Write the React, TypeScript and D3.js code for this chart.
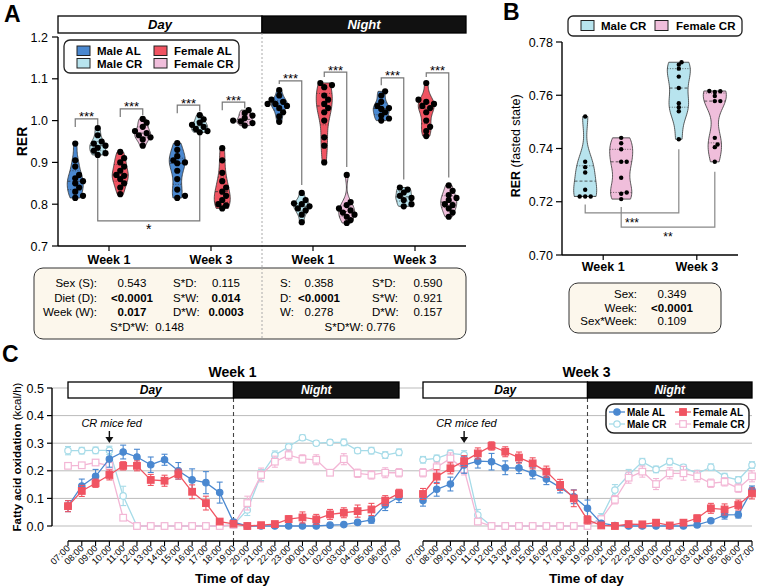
import React from "react";
import * as d3 from "d3";

const FONT = "'Liberation Sans', Arial, Helvetica, sans-serif";

const BLUE = "#4a88d0";
const RED = "#f05462";
const LBLUE = "#b8e4ee";
const PINK = "#f0bedb";
const LBLUE_LINE = "#a6dbe8";
const PINK_LINE = "#f3b6d5";

// ---------- Panel A : RER violins ----------
const periods = ["Day", "Night"];
const weeks = ["Week 1", "Week 3"];
const groupsA = ["Male AL", "Male CR", "Female AL", "Female CR"];

const dayW1MaleAL = [0.945, 0.905, 0.89, 0.87, 0.862, 0.855, 0.85, 0.84, 0.83, 0.82, 0.815];
const dayW1MaleCR = [0.982, 0.965, 0.95, 0.945, 0.94, 0.935, 0.928, 0.922, 0.918];
const dayW1FemaleAL = [0.925, 0.91, 0.9, 0.89, 0.88, 0.87, 0.868, 0.86, 0.85, 0.84, 0.824];
const dayW1FemaleCR = [1.004, 0.995, 0.985, 0.975, 0.97, 0.965, 0.96, 0.955, 0.94];
const dayW3MaleAL = [0.946, 0.93, 0.915, 0.905, 0.9, 0.898, 0.88, 0.86, 0.835, 0.82, 0.815];
const dayW3MaleCR = [1.013, 1.003, 0.995, 0.99, 0.985, 0.98, 0.975, 0.972];
const dayW3FemaleAL = [0.934, 0.905, 0.875, 0.855, 0.84, 0.83, 0.82, 0.81, 0.8, 0.797, 0.79];
const dayW3FemaleCR = [1.025, 1.018, 1.012, 1.006, 1.0, 0.998, 0.994, 0.988];
const nightW1MaleAL = [1.073, 1.06, 1.05, 1.045, 1.04, 1.04, 1.035, 1.03, 1.02, 1.01, 0.997];
const nightW1MaleCR = [0.827, 0.81, 0.802, 0.8, 0.795, 0.79, 0.785, 0.775, 0.757];
const nightW1FemaleAL = [1.09, 1.085, 1.08, 1.06, 1.05, 1.04, 1.03, 1.02, 1.0, 0.96, 0.94, 0.9];
const nightW1FemaleCR = [0.87, 0.805, 0.798, 0.79, 0.785, 0.78, 0.775, 0.77, 0.762, 0.755];
const nightW3MaleAL = [1.07, 1.06, 1.045, 1.035, 1.03, 1.028, 1.02, 1.012, 1.005, 1.0];
const nightW3MaleCR = [0.84, 0.835, 0.828, 0.82, 0.815, 0.81, 0.8, 0.795];
const nightW3FemaleAL = [1.09, 1.05, 1.045, 1.04, 1.035, 1.03, 1.02, 1.0, 0.985, 0.975, 0.963];
const nightW3FemaleCR = [0.845, 0.832, 0.822, 0.815, 0.81, 0.8, 0.798, 0.79, 0.78, 0.77];

const yTicksA = [0.7, 0.8, 0.9, 1.0, 1.1, 1.2];

// significance brackets (level in RER units)
const sigA = [
  { period: "Day", week: "Week 1", a: "Male AL", b: "Male CR", level: 1.004, label: "***" },
  { period: "Day", week: "Week 1", a: "Female AL", b: "Female CR", level: 1.028, label: "***" },
  { period: "Day", week: "Week 3", a: "Male AL", b: "Male CR", level: 1.037, label: "***" },
  { period: "Day", week: "Week 3", a: "Female AL", b: "Female CR", level: 1.044, label: "***" },
  { period: "Night", week: "Week 1", a: "Male AL", b: "Male CR", level: 1.095, label: "***" },
  { period: "Night", week: "Week 1", a: "Female AL", b: "Female CR", level: 1.116, label: "***" },
  { period: "Night", week: "Week 3", a: "Male AL", b: "Male CR", level: 1.102, label: "***" },
  { period: "Night", week: "Week 3", a: "Female AL", b: "Female CR", level: 1.114, label: "***" },
];
const sigAWeek = { period: "Day", group: "Male CR", level: 0.76, label: "*" };

const statsDayRows = [
  ["Sex (S):", "0.543", false, "S*D:", "0.115", false],
  ["Diet (D):", "<0.0001", true, "S*W:", "0.014", true],
  ["Week (W):", "0.017", true, "D*W:", "0.0003", true],
];
const statsDayLast = ["S*D*W:", "0.148"];
const statsNightRows = [
  ["S:", "0.358", false, "S*D:", "0.590", false],
  ["D:", "<0.0001", true, "S*W:", "0.921", false],
  ["W:", "0.278", false, "D*W:", "0.157", false],
];
const statsNightLast = ["S*D*W:", "0.776"];

// ---------- Panel B : fasted RER ----------
const groupsB = ["Male CR", "Female CR"];
const fastW1MaleCR = [0.752, 0.735, 0.733, 0.731, 0.7245, 0.722, 0.722, 0.722];
const fastW1FemaleCR = [0.744, 0.742, 0.7397, 0.735, 0.735, 0.729, 0.7235, 0.723, 0.721];
const fastW3MaleCR = [0.7724, 0.7715, 0.77, 0.767, 0.7627, 0.757, 0.7555, 0.754, 0.7435];
const fastW3FemaleCR = [0.7616, 0.7615, 0.7612, 0.7597, 0.7578, 0.7578, 0.744, 0.7415, 0.7405, 0.735];
const yTicksB = [0.7, 0.72, 0.74, 0.76, 0.78];
const sigB = [
  { group: "Male CR", level: 0.7158, label: "***" },
  { group: "Female CR", level: 0.7105, label: "**" },
];
const statsB = [
  ["Sex:", "0.349", false],
  ["Week:", "<0.0001", true],
  ["Sex*Week:", "0.109", false],
];

// ---------- Panel C : fatty acid oxidation ----------
const hours = [
  "07:00", "08:00", "09:00", "10:00", "11:00", "12:00", "13:00", "14:00", "15:00",
  "16:00", "17:00", "18:00", "19:00", "20:00", "21:00", "22:00", "23:00", "00:00",
  "01:00", "02:00", "03:00", "04:00", "05:00", "06:00", "07:00",
];
const yTicksC = [0, 0.1, 0.2, 0.3, 0.4, 0.5];

const cMaleALW1 = [0.072, 0.145, 0.18, 0.243, 0.268, 0.25, 0.222, 0.24, 0.2, 0.167, 0.157, 0.121, 0.014, 0.0, 0.0, 0.0, 0.0, 0.0, 0.0, 0.003, 0.005, 0.013, 0.022, 0.076, 0.105];
const cMaleALW1Err = [0.02, 0.025, 0.025, 0.03, 0.025, 0.028, 0.028, 0.02, 0.03, 0.04, 0.04, 0.038, 0.008, 0.002, 0.002, 0.002, 0.002, 0.002, 0.002, 0.003, 0.004, 0.006, 0.012, 0.02, 0.02];
const cFemaleALW1 = [0.072, 0.127, 0.155, 0.185, 0.218, 0.218, 0.167, 0.164, 0.188, 0.124, 0.083, 0.016, 0.008, 0.0, 0.003, 0.007, 0.025, 0.031, 0.024, 0.042, 0.048, 0.054, 0.06, 0.092, 0.118];
const cFemaleALW1Err = [0.02, 0.02, 0.015, 0.018, 0.015, 0.018, 0.02, 0.02, 0.018, 0.025, 0.025, 0.006, 0.005, 0.002, 0.004, 0.006, 0.012, 0.02, 0.018, 0.018, 0.018, 0.022, 0.022, 0.018, 0.015];
const cMaleCRW1 = [0.273, 0.273, 0.274, 0.274, 0.109, 0.0, 0.0, 0.0, 0.0, 0.0, 0.0, 0.0, 0.004, 0.058, 0.185, 0.257, 0.287, 0.32, 0.3, 0.303, 0.303, 0.273, 0.273, 0.257, 0.267];
const cMaleCRW1Err = [0.015, 0.012, 0.012, 0.015, 0.035, 0.001, 0.001, 0.001, 0.001, 0.001, 0.001, 0.001, 0.004, 0.02, 0.02, 0.015, 0.012, 0.01, 0.008, 0.01, 0.012, 0.01, 0.012, 0.012, 0.012];
const cFemaleCRW1 = [0.218, 0.22, 0.23, 0.218, 0.03, 0.0, 0.0, 0.0, 0.0, 0.0, 0.0, 0.0, 0.004, 0.083, 0.185, 0.233, 0.257, 0.243, 0.24, 0.193, 0.242, 0.191, 0.185, 0.193, 0.193];
const cFemaleCRW1Err = [0.01, 0.01, 0.01, 0.015, 0.01, 0.001, 0.001, 0.001, 0.001, 0.001, 0.001, 0.001, 0.003, 0.025, 0.025, 0.02, 0.018, 0.015, 0.018, 0.01, 0.02, 0.015, 0.015, 0.018, 0.015];

const cMaleALW3 = [0.092, 0.133, 0.152, 0.221, 0.235, 0.233, 0.211, 0.21, 0.191, 0.17, 0.14, 0.106, 0.064, 0.01, 0.002, 0.0, 0.0, 0.0, 0.0, 0.0, 0.004, 0.019, 0.04, 0.041, 0.13];
const cMaleALW3Err = [0.02, 0.025, 0.025, 0.03, 0.025, 0.03, 0.025, 0.02, 0.02, 0.02, 0.02, 0.025, 0.03, 0.005, 0.002, 0.002, 0.002, 0.002, 0.002, 0.002, 0.003, 0.005, 0.015, 0.012, 0.015];
const cFemaleALW3 = [0.116, 0.179, 0.209, 0.235, 0.263, 0.29, 0.269, 0.248, 0.227, 0.197, 0.149, 0.1, 0.022, 0.002, 0.0, 0.007, 0.006, 0.012, 0.002, 0.012, 0.028, 0.064, 0.06, 0.076, 0.118];
const cFemaleALW3Err = [0.02, 0.025, 0.02, 0.02, 0.02, 0.015, 0.018, 0.02, 0.02, 0.02, 0.02, 0.03, 0.015, 0.003, 0.002, 0.005, 0.005, 0.008, 0.004, 0.008, 0.012, 0.018, 0.02, 0.018, 0.02];
const cMaleCRW3 = [0.24, 0.245, 0.263, 0.258, 0.04, 0.0, 0.0, 0.0, 0.0, 0.0, 0.0, 0.0, 0.0, 0.03, 0.13, 0.185, 0.233, 0.205, 0.233, 0.213, 0.19, 0.213, 0.179, 0.167, 0.221];
const cMaleCRW3Err = [0.012, 0.012, 0.012, 0.015, 0.02, 0.001, 0.001, 0.001, 0.001, 0.001, 0.001, 0.001, 0.002, 0.015, 0.02, 0.02, 0.012, 0.012, 0.012, 0.01, 0.012, 0.012, 0.012, 0.012, 0.012];
const cFemaleCRW3 = [0.193, 0.213, 0.245, 0.205, 0.016, 0.0, 0.0, 0.0, 0.0, 0.0, 0.0, 0.0, 0.0, 0.025, 0.095, 0.175, 0.197, 0.152, 0.191, 0.191, 0.18, 0.155, 0.16, 0.137, 0.18];
const cFemaleCRW3Err = [0.015, 0.018, 0.02, 0.02, 0.008, 0.001, 0.001, 0.001, 0.001, 0.001, 0.001, 0.001, 0.002, 0.01, 0.015, 0.02, 0.02, 0.02, 0.02, 0.025, 0.02, 0.015, 0.015, 0.015, 0.02];

const crFedHour = "10:00";

// ---------- helpers ----------
function violinShape(values, halfW) {
  const s = values.slice().sort(d3.ascending);
  const lo = s[0];
  const hi = s[s.length - 1];
  const sd = d3.deviation(s) || 0.001;
  const bw = Math.max(0.75 * sd * Math.pow(s.length, -0.2), (hi - lo) * 0.06, 1e-5);
  const n = 40;
  const grid = d3.range(n + 1).map((i) => lo + ((hi - lo) * i) / n);
  const dens = grid.map((v) => d3.sum(s, (x) => Math.exp(-0.5 * ((v - x) / bw) ** 2)));
  const m = d3.max(dens) || 1;
  const prof = grid.map((v, i) => ({ v, w: (dens[i] / m) * halfW }));
  const widthAt = (v) => {
    if (hi === lo) return halfW;
    const t = Math.max(0, Math.min(n, ((v - lo) / (hi - lo)) * n));
    const i = Math.min(n - 1, Math.floor(t));
    const f = t - i;
    return prof[i].w * (1 - f) + prof[i + 1].w * f;
  };
  return { s, lo, hi, prof, widthAt };
}

// simple beeswarm so dots of close values sit side by side
function swarm(values, y, r) {
  const placed = [];
  const res = new Array(values.length);
  const order = values.map((v, i) => ({ v, i })).sort((a, b) => a.v - b.v);
  for (const { v, i } of order) {
    const py = y(v);
    let off = 0;
    for (let k = 0; k < 12; k++) {
      const cand = k === 0 ? 0 : (k % 2 ? 1 : -1) * Math.ceil(k / 2) * r * 1.25;
      off = cand;
      if (placed.every((p) => Math.hypot(p.x - cand, p.y - py) >= r * 1.55)) break;
    }
    placed.push({ x: off, y: py });
    res[i] = { x: off, y: py };
  }
  return res;
}

function Violin({ values, cx, y, halfW, fill, r }) {
  const v = violinShape(values, halfW);
  const area = d3
    .area()
    .y((d) => y(d.v))
    .x0((d) => cx - d.w)
    .x1((d) => cx + d.w)
    .curve(d3.curveCatmullRom);
  const q1 = d3.quantile(v.s, 0.25);
  const med = d3.quantile(v.s, 0.5);
  const q3 = d3.quantile(v.s, 0.75);
  const pts = swarm(values, y, r);
  return (
    <g>
      <path d={area(v.prof)} fill={fill} stroke="#333" strokeWidth={0.8} />
      {[q1, q3].map((q, i) => (
        <line key={i} x1={cx - v.widthAt(q)} x2={cx + v.widthAt(q)} y1={y(q)} y2={y(q)}
          stroke="#333" strokeWidth={0.7} strokeDasharray="1,1.5" />
      ))}
      <line x1={cx - v.widthAt(med)} x2={cx + v.widthAt(med)} y1={y(med)} y2={y(med)}
        stroke="#333" strokeWidth={0.8} strokeDasharray="3,2" />
      {pts.map((p, i) => (
        <circle key={i} cx={cx + p.x} cy={p.y} r={r} fill="#000" />
      ))}
    </g>
  );
}

// ---------- layout ----------
const yA = d3.scaleLinear([0.7, 1.2], [246, 37]);
const periodX = d3.scaleBand(periods, [58, 466]);
const weekX = d3.scalePoint(weeks, [0, periodX.bandwidth()]).padding(0.5);
const groupXA = d3.scaleBand(groupsA, [-45, 45]);
const xA = (p, w, g) => periodX(p) + weekX(w) + groupXA(g) + groupXA.bandwidth() / 2;

const colorOf = { "Male AL": BLUE, "Male CR": LBLUE, "Female AL": RED, "Female CR": PINK };

const violinsA = [
  ["Day", "Week 1", "Male AL", dayW1MaleAL], ["Day", "Week 1", "Male CR", dayW1MaleCR],
  ["Day", "Week 1", "Female AL", dayW1FemaleAL], ["Day", "Week 1", "Female CR", dayW1FemaleCR],
  ["Day", "Week 3", "Male AL", dayW3MaleAL], ["Day", "Week 3", "Male CR", dayW3MaleCR],
  ["Day", "Week 3", "Female AL", dayW3FemaleAL], ["Day", "Week 3", "Female CR", dayW3FemaleCR],
  ["Night", "Week 1", "Male AL", nightW1MaleAL], ["Night", "Week 1", "Male CR", nightW1MaleCR],
  ["Night", "Week 1", "Female AL", nightW1FemaleAL], ["Night", "Week 1", "Female CR", nightW1FemaleCR],
  ["Night", "Week 3", "Male AL", nightW3MaleAL], ["Night", "Week 3", "Male CR", nightW3MaleCR],
  ["Night", "Week 3", "Female AL", nightW3FemaleAL], ["Night", "Week 3", "Female CR", nightW3FemaleCR],
].map(([period, week, group, values]) => ({ period, week, group, values }));
const findA = (p, w, g) => violinsA.find((d) => d.period === p && d.week === w && d.group === g).values;

const yB = d3.scaleLinear([0.7, 0.78], [255, 42]);
const weekXB = d3.scalePoint(weeks, [562, 738]).padding(0.44);
const groupXB = d3.scaleBand(groupsB, [-36, 36]);
const xB = (w, g) => weekXB(w) + groupXB(g) + groupXB.bandwidth() / 2;
const violinsB = [
  ["Week 1", "Male CR", fastW1MaleCR], ["Week 1", "Female CR", fastW1FemaleCR],
  ["Week 3", "Male CR", fastW3MaleCR], ["Week 3", "Female CR", fastW3FemaleCR],
].map(([week, group, values]) => ({ week, group, values }));
const findB = (w, g) => violinsB.find((d) => d.week === w && d.group === g).values;

const yC = d3.scaleLinear([0, 0.5], [526, 388]);
const panelsC = [
  { title: "Week 1", x: d3.scaleLinear([0, 24], [68, 399]), key: "w1" },
  { title: "Week 3", x: d3.scaleLinear([0, 24], [423, 752]), key: "w3" },
];
const seriesC = [
  { name: "Male CR", color: LBLUE_LINE, shape: "circle", filled: false, w1: cMaleCRW1, e1: cMaleCRW1Err, w3: cMaleCRW3, e3: cMaleCRW3Err },
  { name: "Female CR", color: PINK_LINE, shape: "square", filled: false, w1: cFemaleCRW1, e1: cFemaleCRW1Err, w3: cFemaleCRW3, e3: cFemaleCRW3Err },
  { name: "Male AL", color: BLUE, shape: "circle", filled: true, w1: cMaleALW1, e1: cMaleALW1Err, w3: cMaleALW3, e3: cMaleALW3Err },
  { name: "Female AL", color: RED, shape: "square", filled: true, w1: cFemaleALW1, e1: cFemaleALW1Err, w3: cFemaleALW3, e3: cFemaleALW3Err },
];
const legendCOrder = ["Male AL", "Female AL", "Male CR", "Female CR"];

function Marker({ s, x, y }) {
  const fill = s.filled ? s.color : "#fff";
  if (s.shape === "circle") return <circle cx={x} cy={y} r={3.2} fill={fill} stroke={s.color} strokeWidth={1.2} />;
  return <rect x={x - 3.3} y={y - 3.3} width={6.6} height={6.6} fill={fill} stroke={s.color} strokeWidth={1.2} />;
}

function Header({ x0, x1, x2, y0, h, fs }) {
  return (
    <g>
      <rect x={x0} y={y0} width={x1 - x0} height={h} fill="#fff" stroke="#000" strokeWidth={1.3} />
      <rect x={x1} y={y0} width={x2 - x1} height={h} fill="#111" stroke="#000" strokeWidth={1.3} />
      <text x={(x0 + x1) / 2} y={y0 + h / 2 + fs * 0.36} textAnchor="middle" fontWeight="bold" fontStyle="italic" fontSize={fs}>Day</text>
      <text x={(x1 + x2) / 2} y={y0 + h / 2 + fs * 0.36} textAnchor="middle" fontWeight="bold" fontStyle="italic" fontSize={fs} fill="#fff">Night</text>
    </g>
  );
}

export default function App() {
  const dayEnd = periodX("Night");
  return (
    <svg width={757} height={587} style={{ position: "absolute", left: 0, top: 0, background: "#fff" }}
      fontFamily={FONT}>
      {/* ================= Panel A ================= */}
      <text x={4} y={22} fontSize={23} fontWeight="bold">A</text>
      <Header x0={58} x1={dayEnd} x2={466} y0={16} h={17} fs={13} />
      <line x1={dayEnd} x2={dayEnd} y1={33} y2={339} stroke="#aaa" strokeWidth={1} strokeDasharray="2,2" />
      {/* y axis */}
      <line x1={58} x2={58} y1={yA(1.2)} y2={yA(0.7)} stroke="#000" strokeWidth={1.4} />
      {yTicksA.map((t) => (
        <g key={t}>
          <line x1={52} x2={58} y1={yA(t)} y2={yA(t)} stroke="#000" strokeWidth={1.2} />
          <text x={48} y={yA(t) + 4.5} textAnchor="end" fontSize={12.5}>{t.toFixed(1)}</text>
        </g>
      ))}
      <text transform={`translate(27,${yA(0.95)}) rotate(-90)`} textAnchor="middle" fontWeight="bold" fontSize={14}>RER</text>
      {/* x axis */}
      <line x1={58} x2={466} y1={yA(0.7)} y2={yA(0.7)} stroke="#000" strokeWidth={1.4} />
      {periods.map((p) => weeks.map((w) => (
        <g key={p + w}>
          <line x1={periodX(p) + weekX(w)} x2={periodX(p) + weekX(w)} y1={yA(0.7)} y2={yA(0.7) + 5} stroke="#000" strokeWidth={1.2} />
          <text x={periodX(p) + weekX(w)} y={264} textAnchor="middle" fontWeight="bold" fontSize={12.5}>{w}</text>
        </g>
      )))}
      {/* brackets */}
      {sigA.map((s, i) => {
        const xa = xA(s.period, s.week, s.a);
        const xb = xA(s.period, s.week, s.b);
        const ly = yA(s.level);
        const ya = Math.min(yA(d3.max(findA(s.period, s.week, s.a))) - 6, ly + 8);
        const yb = yA(d3.max(findA(s.period, s.week, s.b))) - 8;
        return (
          <g key={i}>
            <path d={`M${xa},${ya}V${ly}H${xb}V${Math.max(yb, ly + 6)}`} fill="none" stroke="#777" strokeWidth={1.2} />
            <text x={(xa + xb) / 2} y={ly + 2.5} textAnchor="middle" fontSize={13}>{s.label}</text>
          </g>
        );
      })}
      {(() => {
        const xa = xA(sigAWeek.period, "Week 1", sigAWeek.group);
        const xb = xA(sigAWeek.period, "Week 3", sigAWeek.group);
        const ly = yA(sigAWeek.level);
        const ya = yA(d3.min(findA(sigAWeek.period, "Week 1", sigAWeek.group))) + 3;
        const yb = yA(d3.min(findA(sigAWeek.period, "Week 3", sigAWeek.group))) + 3;
        return (
          <g>
            <path d={`M${xa},${ya}V${ly}H${xb}V${yb}`} fill="none" stroke="#777" strokeWidth={1.2} />
            <text x={(xa + xb) / 2} y={ly + 13} textAnchor="middle" fontSize={14}>{sigAWeek.label}</text>
          </g>
        );
      })()}
      {violinsA.map((d, i) => (
        <Violin key={i} values={d.values} cx={xA(d.period, d.week, d.group)} y={yA} halfW={8}
          fill={colorOf[d.group]} r={3.1} />
      ))}
      {/* legend A */}
      <rect x={64} y={40} width={175} height={33} rx={6} fill="#fff" stroke="#222" strokeWidth={1.3} />
      {groupsA.map((g) => {
        const col = g.startsWith("Male") ? 0 : 1;
        const row = g.endsWith("AL") ? 0 : 1;
        const x = 77 + col * 77;
        const y = 46 + row * 12.5;
        return (
          <g key={g}>
            <rect x={x} y={y} width={13} height={9.5} fill={colorOf[g]} stroke="#222" strokeWidth={1} />
            <text x={x + 20} y={y + 9} fontWeight="bold" fontSize={11.5}>{g}</text>
          </g>
        );
      })}
      {/* stats A */}
      <rect x={34} y={268} width={432} height={71} rx={9} fill="#fcf7ec" stroke="#333" strokeWidth={1} />
      <line x1={dayEnd} x2={dayEnd} y1={268} y2={339} stroke="#aaa" strokeWidth={1} strokeDasharray="2,2" />
      {statsDayRows.map((r, i) => (
        <g key={i} fontSize={11.5}>
          <text x={97} y={287 + i * 14.7} textAnchor="end">{r[0]}</text>
          <text x={132} y={287 + i * 14.7} textAnchor="middle" fontWeight={r[2] ? "bold" : "normal"}>{r[1]}</text>
          <text x={173} y={287 + i * 14.7}>{r[3]}</text>
          <text x={226} y={287 + i * 14.7} textAnchor="middle" fontWeight={r[5] ? "bold" : "normal"}>{r[4]}</text>
        </g>
      ))}
      <text x={147} y={331} textAnchor="middle" fontSize={11.5}>{statsDayLast[0]}{"\u00a0\u00a0"}{statsDayLast[1]}</text>
      {statsNightRows.map((r, i) => (
        <g key={i} fontSize={11.5}>
          <text x={280} y={287 + i * 14.7}>{r[0]}</text>
          <text x={319} y={287 + i * 14.7} textAnchor="middle" fontWeight={r[2] ? "bold" : "normal"}>{r[1]}</text>
          <text x={372} y={287 + i * 14.7}>{r[3]}</text>
          <text x={428} y={287 + i * 14.7} textAnchor="middle" fontWeight={r[5] ? "bold" : "normal"}>{r[4]}</text>
        </g>
      ))}
      <text x={360} y={331} textAnchor="middle" fontSize={11.5}>{statsNightLast[0]} {statsNightLast[1]}</text>

      {/* ================= Panel B ================= */}
      <text x={503} y={20} fontSize={23} fontWeight="bold">B</text>
      <rect x={568} y={16} width={174} height={20} rx={5} fill="#fff" stroke="#222" strokeWidth={1.3} />
      {groupsB.map((g, i) => (
        <g key={g}>
          <rect x={581 + i * 74} y={20.5} width={13} height={10} fill={colorOf[g]} stroke="#222" strokeWidth={1} />
          <text x={601 + i * 75} y={30} fontWeight="bold" fontSize={11.5}>{g}</text>
        </g>
      ))}
      <line x1={562} x2={562} y1={yB(0.78)} y2={yB(0.7)} stroke="#000" strokeWidth={1.4} />
      {yTicksB.map((t) => (
        <g key={t}>
          <line x1={556} x2={562} y1={yB(t)} y2={yB(t)} stroke="#000" strokeWidth={1.2} />
          <text x={553} y={yB(t) + 4.5} textAnchor="end" fontSize={12.5}>{t.toFixed(2)}</text>
        </g>
      ))}
      <text transform={`translate(520,${yB(0.741)}) rotate(-90)`} textAnchor="middle" fontSize={12.5}>
        <tspan fontWeight="bold">RER</tspan> (fasted state)
      </text>
      <line x1={562} x2={738} y1={yB(0.7)} y2={yB(0.7)} stroke="#000" strokeWidth={1.4} />
      {weeks.map((w) => (
        <g key={w}>
          <line x1={weekXB(w)} x2={weekXB(w)} y1={yB(0.7)} y2={yB(0.7) + 5} stroke="#000" strokeWidth={1.2} />
          <text x={weekXB(w)} y={271} textAnchor="middle" fontWeight="bold" fontSize={12.5}>{w}</text>
        </g>
      ))}
      {sigB.map((s, i) => {
        const xa = xB("Week 1", s.group);
        const xb = xB("Week 3", s.group);
        const ly = yB(s.level);
        const ya = yB(d3.min(findB("Week 1", s.group))) + 8;
        const yb = yB(d3.min(findB("Week 3", s.group))) + 10;
        return (
          <g key={i}>
            <path d={`M${xa},${ya}V${ly}H${xb}V${yb}`} fill="none" stroke="#888" strokeWidth={1.2} />
            <text x={(xa + xb) / 2} y={ly + 14} textAnchor="middle" fontSize={12}>{s.label}</text>
          </g>
        );
      })}
      {violinsB.map((d, i) => (
        <Violin key={i} values={d.values} cx={xB(d.week, d.group)} y={yB} halfW={11.5}
          fill={colorOf[d.group]} r={2.2} />
      ))}
      <rect x={569} y={283} width={152} height={50} rx={9} fill="#fcf7ec" stroke="#333" strokeWidth={1} />
      {statsB.map((r, i) => (
        <g key={i} fontSize={11.5}>
          <text x={637} y={298 + i * 13.7} textAnchor="end">{r[0]}</text>
          <text x={672} y={298 + i * 13.7} textAnchor="middle" fontWeight={r[2] ? "bold" : "normal"}>{r[1]}</text>
        </g>
      ))}

      {/* ================= Panel C ================= */}
      <text x={2} y={362} fontSize={23} fontWeight="bold">C</text>
      {yTicksC.map((t) => (
        <g key={t}>
          <line x1={52} x2={752} y1={yC(t)} y2={yC(t)} stroke="#bbb" strokeWidth={1} />
          <line x1={47} x2={52} y1={yC(t)} y2={yC(t)} stroke="#000" strokeWidth={1.2} />
          <text x={44} y={yC(t) + 4.5} textAnchor="end" fontSize={12.5}>{t.toFixed(1)}</text>
        </g>
      ))}
      <line x1={52} x2={52} y1={yC(0.5)} y2={yC(0)} stroke="#000" strokeWidth={1.4} />
      <text transform={`translate(21,${yC(0.25)}) rotate(-90)`} textAnchor="middle" fontSize={11.5}>
        <tspan fontWeight="bold">Fatty acid oxidation</tspan> (kcal/h)
      </text>
      {panelsC.map((p) => {
        const x = p.x;
        const x19 = x(hours.indexOf("19:00"));
        const xFed = x(hours.indexOf(crFedHour));
        return (
          <g key={p.key}>
            <text x={x(12) - 1} y={377} textAnchor="middle" fontWeight="bold" fontSize={14}>{p.title}</text>
            <line x1={x19} x2={x19} y1={398} y2={543} stroke="#444" strokeWidth={1.1} strokeDasharray="4,3" />
            <Header x0={x(0)} x1={x19} x2={x(24)} y0={382} h={16} fs={12} />
            <text x={xFed - 28} y={427} fontStyle="italic" fontSize={11}>CR mice fed</text>
            <line x1={xFed} x2={xFed} y1={431} y2={438} stroke="#111" strokeWidth={1.4} />
            <path d={`M${xFed - 4},${437}L${xFed + 4},${437}L${xFed},${443}Z`} fill="#111" />
            {/* x axis */}
            <line x1={x(0)} x2={x(24)} y1={541} y2={541} stroke="#000" strokeWidth={1.4} />
            {hours.map((h, i) => (
              <g key={i}>
                <line x1={x(i)} x2={x(i)} y1={541} y2={546} stroke="#000" strokeWidth={1.1} />
                <text transform={`translate(${x(i) + 2.5},${549}) rotate(-45)`} textAnchor="end" fontSize={9.2}>{h}</text>
              </g>
            ))}
            <text x={x(12) - 1} y={583} textAnchor="middle" fontWeight="bold" fontSize={13.5}>Time of day</text>
            {seriesC.map((s) => {
              const vals = p.key === "w1" ? s.w1 : s.w3;
              const errs = p.key === "w1" ? s.e1 : s.e3;
              const line = d3.line().x((d, i) => x(i)).y((d) => yC(d));
              return (
                <g key={s.name}>
                  <path d={line(vals)} fill="none" stroke={s.color} strokeWidth={1.3} />
                  {vals.map((v, i) => (
                    <g key={i} stroke={s.color} strokeWidth={1.1}>
                      <line x1={x(i)} x2={x(i)} y1={yC(v - errs[i])} y2={yC(v + errs[i])} />
                      <line x1={x(i) - 3} x2={x(i) + 3} y1={yC(v - errs[i])} y2={yC(v - errs[i])} />
                      <line x1={x(i) - 3} x2={x(i) + 3} y1={yC(v + errs[i])} y2={yC(v + errs[i])} />
                    </g>
                  ))}
                  {vals.map((v, i) => (
                    <Marker key={"m" + i} s={s} x={x(i)} y={yC(v)} />
                  ))}
                </g>
              );
            })}
          </g>
        );
      })}
      {/* legend C */}
      <rect x={606} y={404} width={143} height={29} rx={8} fill="#fff" stroke="#222" strokeWidth={1.5} />
      {legendCOrder.map((name, i) => {
        const s = seriesC.find((d) => d.name === name);
        const col = i % 2;
        const row = Math.floor(i / 2);
        const cx = 617 + col * 66;
        const cy = 412 + row * 12;
        return (
          <g key={name}>
            <line x1={cx - 8} x2={cx + 8} y1={cy} y2={cy} stroke={s.color} strokeWidth={1.3} />
            <Marker s={s} x={cx} y={cy} />
            <text x={cx + 10} y={cy + 3.6} fontWeight="bold" fontSize={10}>{name}</text>
          </g>
        );
      })}
    </svg>
  );
}
